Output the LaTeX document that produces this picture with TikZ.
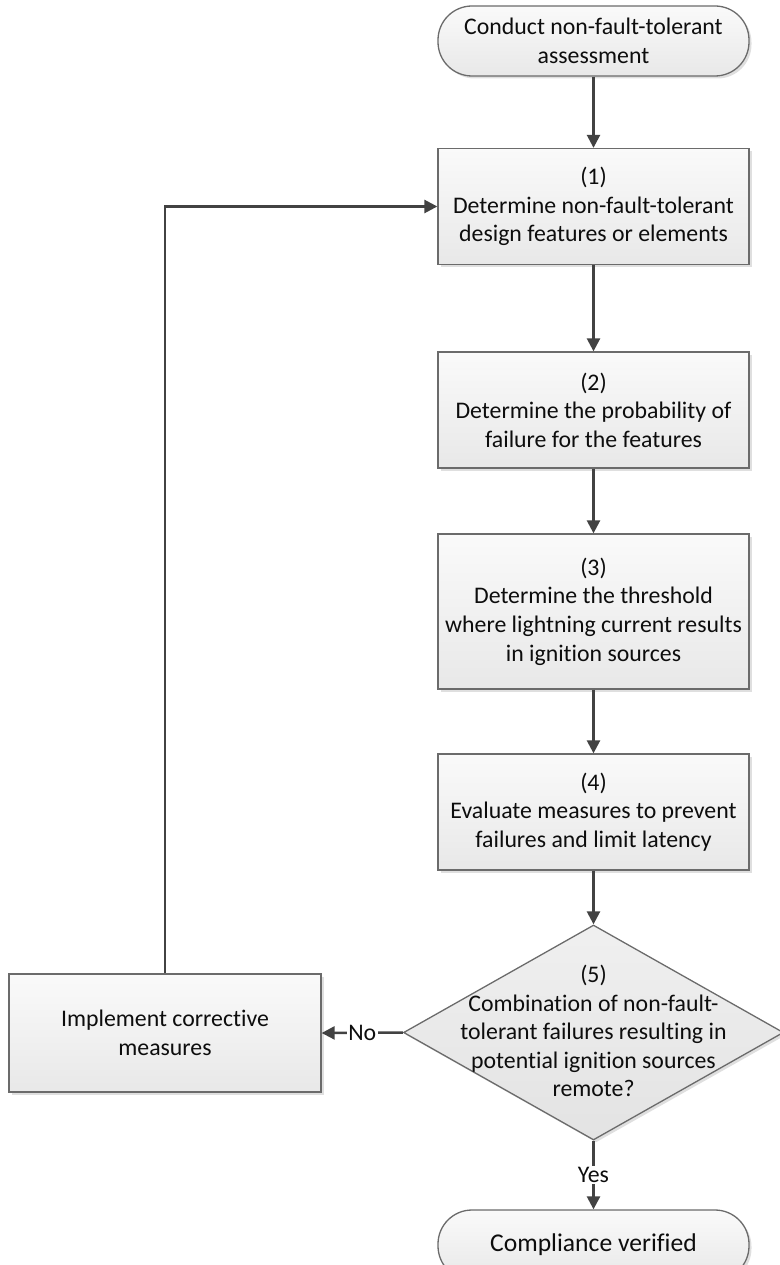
\documentclass[tikz,border=0pt]{standalone}
\usepackage{fontspec}
\setmainfont[Ligatures=NoCommon]{Carlito}
\usepackage{tikz}
\usetikzlibrary{positioning,arrows.meta,shapes.geometric,shadows}

\begin{document}
\begin{tikzpicture}[
  x=1pt, y=-1pt,
  font=\fontsize{23.8}{28.6}\selectfont,
  bx/.style   ={draw=black!58, line width=1.3pt, align=center, inner sep=4pt,
                top color=black!2, bottom color=black!9, text=black!95,
                minimum width=311pt, minimum height=116pt,
                drop shadow={shadow xshift=2.5pt, shadow yshift=-2.5pt, fill=black!25}},
  term/.style ={bx, rounded corners=34pt, minimum height=70pt},
  dec/.style  ={bx, shape=diamond, minimum width=380pt, minimum height=215pt,
                inner sep=0pt, top color=black!6, bottom color=black!11},
  txt/.style  ={align=center, text=black!95, inner sep=0pt},
  ar/.style   ={-{Triangle[length=13pt,width=13pt]}, line width=2.5pt, draw=black!74},
  lbl/.style  ={fill=white, inner sep=1.5pt, text=black!95},
]
\useasboundingbox (0,0) rectangle (779,1265);

% ---- main column ----
\node[term] (start) at (593.5, 41)  {Conduct non-fault-tolerant\\ assessment};
\node[bx]   (s1)    at (593.5,206.5){(1)\\ Determine non-fault-tolerant\\ design features or elements};
\node[bx]   (s2)    at (593.5,410)  {(2)\\ Determine the probability of\\ failure for the features};
\node[bx, minimum height=155pt]
            (s3)    at (593.5,611.5){(3)\\ Determine the threshold\\ where lightning current results\\ in ignition sources};
\node[bx]   (s4)    at (593.5,812)  {(4)\\ Evaluate measures to prevent\\ failures and limit latency};
\node[dec]  (dec)   at (593.5,1032.5) {};
\node[txt]  (dectxt) at (593.5,1031) {(5)\\ Combination of non-fault-\\ tolerant failures resulting in\\ potential ignition sources\\ remote?};
\node[term, font=\fontsize{25.6}{30}\selectfont]
            (end)   at (593.5,1245) {Compliance verified};

% ---- side box ----
\node[bx, minimum width=312pt, minimum height=118pt]
            (fix)   at (165,1033) {Implement corrective\\ measures};

% ---- edges ----
\draw[ar] (start) -- (s1);
\draw[ar] (s1) -- (s2);
\draw[ar] (s2) -- (s3);
\draw[ar] (s3) -- (s4);
\draw[ar] (s4) -- (dec.north);
\draw[ar] (dec.west) -- node[lbl]{No} (fix.east);
\draw[ar] (dec.south) -- node[lbl]{Yes} (end.north);
\draw[ar] (fix.north) |- (s1.west);
\end{tikzpicture}
\end{document}
